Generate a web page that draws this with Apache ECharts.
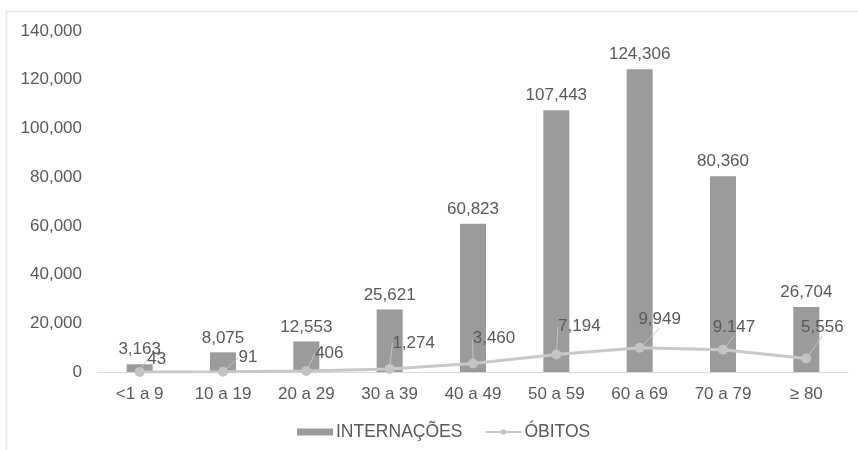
<!DOCTYPE html>
<html>
<head>
<meta charset="utf-8">
<style>
  html, body { margin: 0; padding: 0; background: #fff; }
  #chart { width: 858px; height: 450px; }
</style>
<script src="https://cdn.jsdelivr.net/npm/echarts@6/dist/echarts.min.js"></script>
</head>
<body>
<div id="chart"></div>
<script>
// Age groups and counts
const faixas = ['<1 a 9', '10 a 19', '20 a 29', '30 a 39', '40 a 49', '50 a 59', '60 a 69', '70 a 79', '≥ 80'];
const internacoes = [3163, 8075, 12553, 25621, 60823, 107443, 124306, 80360, 26704];
const obitos = [43, 91, 406, 1274, 3460, 7194, 9949, 9147, 5556];
const obitosText = ['43', '91', '406', '1,274', '3,460', '7,194', '9,949', '9.147', '5,556'];

// Where each death-count label sits relative to its point (px)
const obitosLabelShift = [[17, -13], [25, -14], [23, -18], [24, -26], [21, -25], [23, -28], [20, -28], [11, -22], [16, -31]];

const textColor = '#595959';
const fontFamily = 'Liberation Sans, Arial, sans-serif';
const fmt = v => v.toLocaleString('en-US');

const chart = echarts.init(document.getElementById('chart'), null, { renderer: 'canvas' });

chart.setOption({
  animation: false,
  backgroundColor: '#ffffff',
  textStyle: { fontFamily: fontFamily, color: textColor },
  graphic: [{
    type: 'rect',
    shape: { x: 6.5, y: 11.5, width: 880, height: 480 },
    style: { fill: 'none', stroke: '#e4e4e4', lineWidth: 1.5 },
    silent: true
  }],
  grid: { left: 98, right: 10, top: 31, bottom: 78, containLabel: false },
  legend: {
    bottom: 4,
    left: 292,
    itemGap: 22,
    itemWidth: 36,
    itemHeight: 7,
    textStyle: { fontSize: 17.5, color: textColor, fontFamily: fontFamily, padding: [0, 0, 0, -2] },
    data: [
      { name: 'INTERNAÇÕES', icon: 'rect' },
      { name: 'ÓBITOS' }
    ]
  },
  xAxis: {
    type: 'category',
    data: faixas,
    axisTick: { show: false },
    axisLine: { lineStyle: { color: '#d9d9d9', width: 1 } },
    axisLabel: { fontSize: 17, color: textColor, margin: 14, fontFamily: fontFamily, interval: 0 }
  },
  yAxis: {
    type: 'value',
    min: 0,
    max: 140000,
    interval: 20000,
    splitLine: { show: false },
    axisLine: { show: false },
    axisTick: { show: false },
    axisLabel: { fontSize: 17, color: textColor, margin: 16, fontFamily: fontFamily, formatter: fmt }
  },
  series: [
    {
      name: 'INTERNAÇÕES',
      type: 'bar',
      data: internacoes,
      barWidth: 26,
      itemStyle: { color: '#9b9b9b' },
      z: 1,
      label: {
        show: true,
        position: 'top',
        distance: 6,
        fontSize: 17,
        color: textColor,
        fontFamily: fontFamily,
        formatter: p => fmt(p.value)
      }
    },
    {
      name: 'ÓBITOS',
      type: 'line',
      data: obitos,
      symbol: 'circle',
      symbolSize: 10,
      lineStyle: { color: '#c9c9c9', width: 3 },
      itemStyle: { color: '#c4c4c4' },
      z: 3,
      label: {
        show: true,
        position: 'inside',
        fontSize: 17,
        color: textColor,
        fontFamily: fontFamily,
        formatter: p => obitosText[p.dataIndex]
      },
      labelLayout: p => ({
        dx: obitosLabelShift[p.dataIndex][0],
        dy: obitosLabelShift[p.dataIndex][1]
      }),
      labelLine: {
        show: true,
        lineStyle: { color: '#c4c4c4', width: 1 }
      }
    }
  ]
});
</script>
</body>
</html>
